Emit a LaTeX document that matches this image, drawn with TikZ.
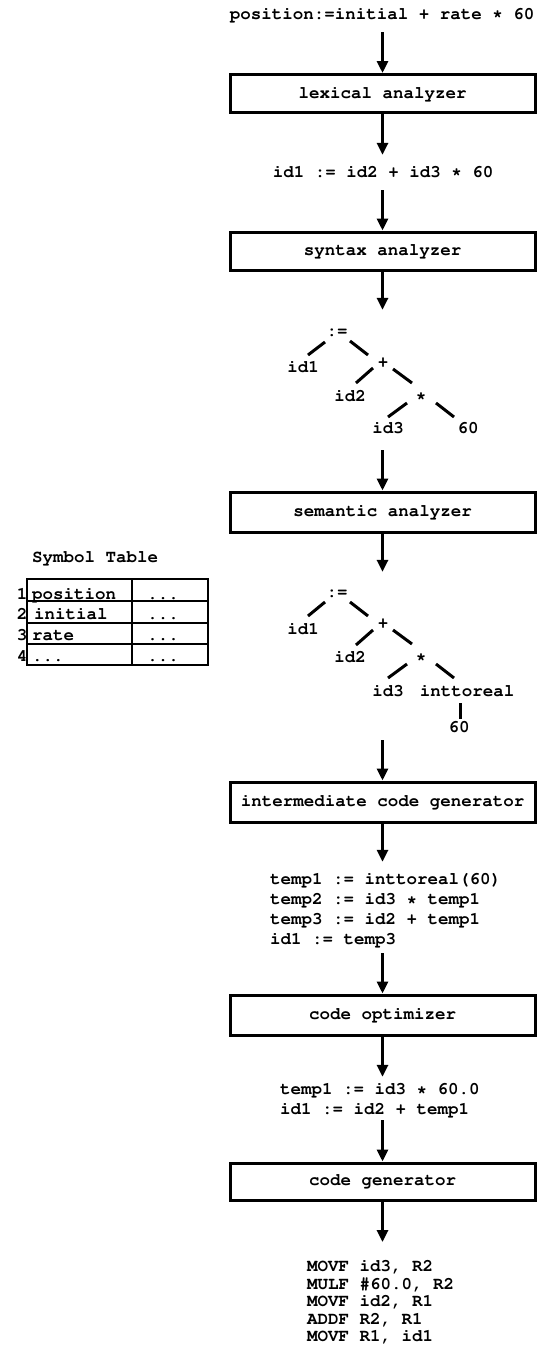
\documentclass[tikz,border=0pt]{standalone}
\usepackage[T1]{fontenc}
\usepackage{courier}
\usetikzlibrary{arrows.meta,calc}

\tikzset{
  txt/.style={inner sep=0pt, text height=11pt, text depth=3pt},
  codeblock/.style={inner sep=0pt, align=left, anchor=west},
  stage/.style={draw, line width=3pt, minimum width=305pt, minimum height=38pt, inner sep=0pt},
  arr/.style={line width=3pt, -{Triangle[length=12pt,width=11pt]}},
  edge/.style={line width=3pt},
  thin rule/.style={line width=1.2pt},
}

\begin{document}
\begin{tikzpicture}[x=1pt, y=-1pt,
  every node/.style={font=\ttfamily\bfseries\fontsize{17.5}{20}\selectfont}]
\useasboundingbox (0,0) rectangle (540,1350);

% ---------- pipeline ----------
\node[txt] (src) at (382,15) {position:=initial + rate * 60};
\node[stage] (lex) at (382.5,93.5) {lexical analyzer};
\node[txt] (tok) at (383,173) {id1 := id2 + id3 * 60};
\node[stage] (syn) at (382.5,251) {syntax analyzer};

% syntax tree
\node[txt] (a1)  at (337,332) {:=};
\node[txt] (i11) at (303,368) {id1};
\node[txt] (p1)  at (383,363) {+};
\node[txt] (i21) at (350,397) {id2};
\node[txt] (m1)  at (421,397) {*};
\node[txt] (i31) at (388,429) {id3};
\node[txt] (n1)  at (468,429) {60};

\node[stage, minimum height=40pt] (sem) at (382.5,512) {semantic analyzer};

% annotated tree
\node[txt] (a2)  at (337,593) {:=};
\node[txt] (i12) at (303,630) {id1};
\node[txt] (p2)  at (383,624) {+};
\node[txt] (i22) at (350,658) {id2};
\node[txt] (m2)  at (421,658) {*};
\node[txt] (i32) at (388,692) {id3};
\node[txt] (itr) at (467,692) {inttoreal};
\node[txt] (n2)  at (459,728) {60};

\node[stage, minimum height=40pt] (icg) at (382.5,802) {intermediate code generator};

\node[codeblock] (ic) at (270,910) {temp1 := inttoreal(60)\\temp2 := id3 * temp1\\temp3 := id2 + temp1\\id1 := temp3};

\node[stage, minimum height=40pt] (opt) at (382.5,1015) {code optimizer};

\node[codeblock] (oc) at (280,1100) {temp1 := id3 * 60.0\\id1 := id2 + temp1};

\node[stage, minimum height=37pt] (cg) at (382.5,1181.5) {code generator};

\node[codeblock, font=\ttfamily\bfseries\fontsize{17.5}{17.5}\selectfont] (asm) at (307,1302)
  {MOVF id3, R2\\MULF \#60.0, R2\\MOVF id2, R1\\ADDF R2, R1\\MOVF R1, id1};

% ---------- arrows ----------
\draw[arr, shorten <=10pt] (src.south -| lex.north) -- (lex.north);
\draw[arr, shorten >=11pt] (lex.south) -- (lex.south |- tok.north);
\draw[arr, shorten <=10pt] (tok.south -| syn.north) -- (syn.north);
\draw[arr, shorten >=15pt] (syn.south) -- (syn.south |- a1.north);
\draw[arr, shorten <=14pt] (i31.south -| sem.north) -- (sem.north);
\draw[arr, shorten >=14pt] (sem.south) -- (sem.south |- a2.north);
\draw[arr, shorten <=41pt] (i32.south -| icg.north) -- (icg.north);
\draw[arr, shorten >=11pt] (icg.south) -- (icg.south |- ic.north);
\draw[arr, shorten <=6pt] (ic.south -| opt.north) -- (opt.north);
\draw[arr, shorten >=6pt] (opt.south) -- (opt.south |- oc.north);
\draw[arr, shorten <=3pt] (oc.south -| cg.north) -- (cg.north);
\draw[arr, shorten >=18pt] (cg.south) -- (cg.south |- asm.north);

% ---------- tree edges ----------
\draw[edge] ($(a1)+(-12,10)$) -- ($(i11)+(5,-13)$);
\draw[edge] ($(a1)+(13,9)$)   -- ($(p1)+(-15,-8)$);
\draw[edge] ($(p1)+(-10,5)$)  -- ($(i21)+(6,-14)$);
\draw[edge] ($(p1)+(10,6)$)   -- ($(m1)+(-9,-14)$);
\draw[edge] ($(m1)+(-14,6)$)  -- ($(i31)+(0,-12)$);
\draw[edge] ($(m1)+(15,6)$)   -- ($(n1)+(-14,-12)$);

\draw[edge] ($(a2)+(-12,9)$)  -- ($(i12)+(5,-14)$);
\draw[edge] ($(a2)+(13,9)$)   -- ($(p2)+(-15,-8)$);
\draw[edge] ($(p2)+(-10,6)$)  -- ($(i22)+(6,-13)$);
\draw[edge] ($(p2)+(10,6)$)   -- ($(m2)+(-9,-14)$);
\draw[edge] ($(m2)+(-14,6)$)  -- ($(i32)+(0,-14)$);
\draw[edge] ($(m2)+(15,6)$)   -- ($(itr)+(-13,-14)$);
\draw[edge] ($(itr)+(-7,11)$) -- ($(n2)+(1,-9)$);

% ---------- symbol table ----------
\node[anchor=base] (stitle) at (95,562) {Symbol Table};
\draw[thin rule] (27,579) rectangle (208,665);
\draw[thin rule] (132,579) -- (132,665);
\foreach \yy in {601,623,644} \draw[thin rule] (27,\yy) -- (208,\yy);

\node[anchor=base east, inner sep=0pt] (r1) at (27.5,599) {1};
\node[anchor=base east, inner sep=0pt] (r2) at (27.5,619) {2};
\node[anchor=base east, inner sep=0pt] (r3) at (27.5,640) {3};
\node[anchor=base east, inner sep=0pt] (r4) at (27.5,661) {4};

\node[anchor=base west, inner sep=0pt] (s1) at (32,599) {position};
\node[anchor=base west, inner sep=0pt] (s2) at (34,619) {initial};
\node[anchor=base west, inner sep=0pt] (s3) at (32,640) {rate};
\node[anchor=base west, inner sep=0pt] (s4) at (32,661) {...};

\foreach \yy/\nm in {599/1,619/2,640/3,661/4}
  \node[anchor=base, inner sep=0pt] (v\nm) at (163,\yy) {...};
\end{tikzpicture}
\end{document}
